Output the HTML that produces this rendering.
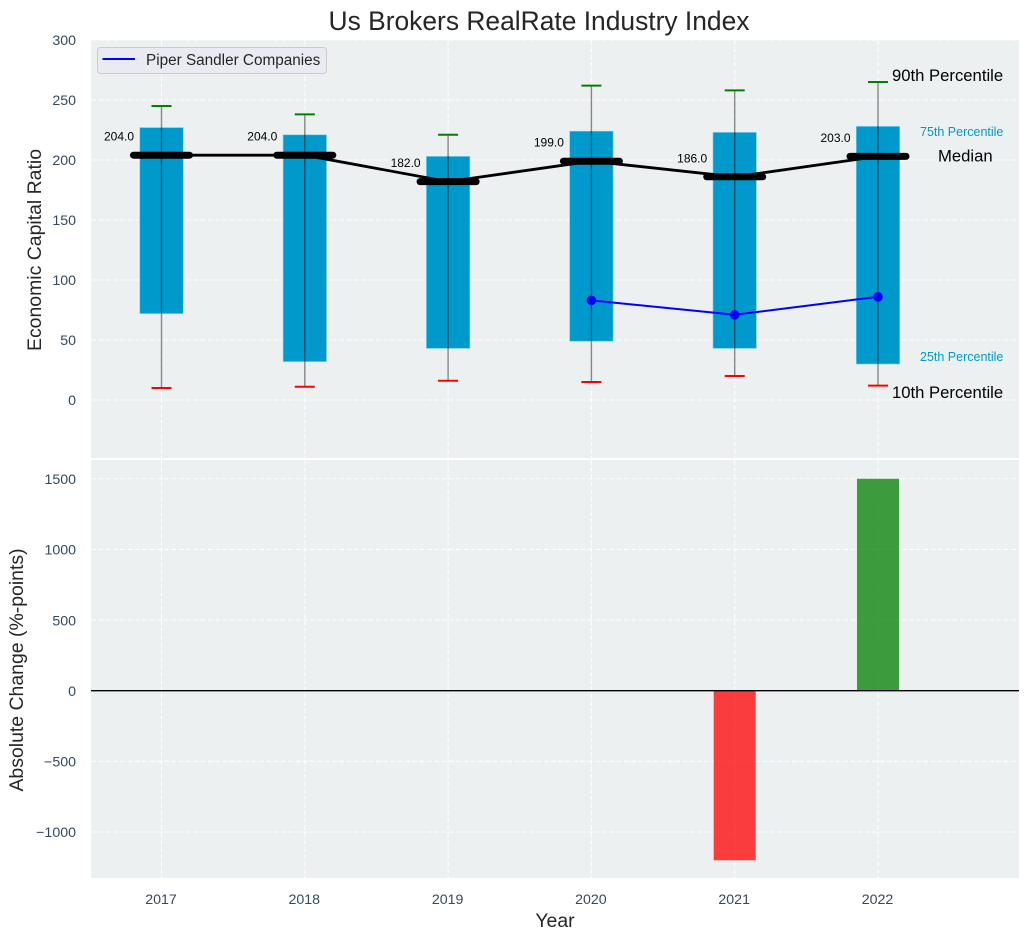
<!DOCTYPE html>
<html lang="en">
<head>
<meta charset="utf-8">
<title>Us Brokers RealRate Industry Index</title>
<style>
html,body{margin:0;padding:0;background:#fff;width:1029px;height:940px;overflow:hidden}
svg{display:block;font-family:"Liberation Sans",Arial,sans-serif}
</style>
</head>
<body>
<svg id="chart" xmlns="http://www.w3.org/2000/svg" width="1029" height="940" viewBox="0 0 1029 940">
  <rect x="0" y="0" width="1029" height="940" fill="#ffffff"/>
  <rect x="91" y="40" width="928" height="418" fill="#ecf0f1"/>
  <rect x="91" y="460" width="928" height="418" fill="#ecf0f1"/>
  <g id="grid"></g>
  <g id="lower"></g>
  <g id="upper"></g>
  <g id="ticks"></g>
  <text x="539" y="30" text-anchor="middle" font-size="26.4" fill="#262626">Us Brokers RealRate Industry Index</text>
  <text transform="translate(41,250) rotate(-90)" text-anchor="middle" font-size="19.44" fill="#262626">Economic Capital Ratio</text>
  <text transform="translate(23,670) rotate(-90)" text-anchor="middle" font-size="19.44" fill="#262626">Absolute Change (%-points)</text>
  <text x="555" y="927" text-anchor="middle" font-size="19.44" fill="#262626">Year</text>
  <g>
    <rect x="97.5" y="47.5" width="229" height="26" rx="3" fill="#eaeaf2" fill-opacity="0.9" stroke="#cccccc"/>
    <line x1="102.5" y1="59" x2="135" y2="59" stroke="#0000ff" stroke-width="2"/>
    <text x="146" y="65" font-size="15.3" fill="#262626">Piper Sandler Companies</text>
  </g>
  <text x="892" y="81" font-size="16.67" fill="#000000">90th Percentile</text>
  <text x="920" y="136" font-size="12.5" fill="#0099cc">75th Percentile</text>
  <text x="938" y="161.500" font-size="16.67" fill="#000000">Median</text>
  <text x="920" y="361" font-size="12.5" fill="#0099cc">25th Percentile</text>
  <text x="892" y="398" font-size="16.67" fill="#000000">10th Percentile</text>
</svg>
<script>
const years = [2017, 2018, 2019, 2020, 2021, 2022];
const p90 = [245, 238, 221, 262, 258, 265];
const p75 = [227, 221, 203, 224, 223, 228];
const median = [204, 204, 182, 199, 186, 203];
const p25 = [72, 32, 43, 49, 43, 30];
const p10 = [10, 11, 16, 15, 20, 12];
const company = [null, null, null, 83, 71, 86];
const change = [0, 0, 0, 0, -1200, 1500];
const topTicks = [300, 250, 200, 150, 100, 50, 0];
const bottomTicks = [1500, 1000, 500, 0, -500, -1000];

const NS = 'http://www.w3.org/2000/svg';
const xScale = function (year) { return 161.5 + (year - 2017) * 143.3; };
const yTop = function (v) { return 400 - v * 1.2; };
const yBottom = function (v) { return 690.7 - v * 0.1413; };
const gridLayer = document.getElementById('grid');
const lowerLayer = document.getElementById('lower');
const upperLayer = document.getElementById('upper');
const tickLayer = document.getElementById('ticks');

function make(tag, parent, attrs) {
  const node = document.createElementNS(NS, tag);
  Object.keys(attrs).forEach(function (k) { node.setAttribute(k, attrs[k]); });
  parent.appendChild(node);
  return node;
}
const gridStyle = { stroke: '#ffffff', 'stroke-width': 1.1, 'stroke-dasharray': '5.1 2.2', 'stroke-opacity': 0.9 };
function gridAttrs(x1, y1, x2, y2) {
  return Object.assign({ x1: x1, y1: y1, x2: x2, y2: y2 }, gridStyle);
}

topTicks.forEach(function (t) {
  const y = yTop(t);
  const g = make('line', gridLayer, gridAttrs(91, y, 1019, y));
  
  
  const lab = make('text', tickLayer, { x: 76, y: y + 5.2, 'text-anchor': 'end', 'font-size': 14.2, fill: '#34495e' });
  
  
  lab.textContent = String(t);
});
bottomTicks.forEach(function (t) {
  const y = yBottom(t);
  const g = make('line', gridLayer, gridAttrs(91, y, 1019, y));
  
  
  const lab = make('text', tickLayer, { x: 76, y: y + 5.2, 'text-anchor': 'end', 'font-size': 14.2, fill: '#34495e' });
  
  
  lab.textContent = String(t).replace('-', '\u2212');
});
years.forEach(function (yr) {
  const x = xScale(yr);
  const gt = make('line', gridLayer, gridAttrs(x, 40, x, 458));
  
  
  const gb = make('line', gridLayer, gridAttrs(x, 460, x, 878));
  
  
  const lab = make('text', tickLayer, { x: x - 0.5, y: 904, 'text-anchor': 'middle', 'font-size': 14.2, fill: '#34495e' });
  
  
  lab.textContent = String(yr);
});

/* lower panel */
change.forEach(function (v, i) {
  const x = xScale(years[i]);
  const y0 = yBottom(0);
  const yv = yBottom(v);
  const bar = make('rect', lowerLayer, {
    x: x - 21, y: Math.min(y0, yv), width: 42, height: Math.abs(yv - y0),
    fill: v >= 0 ? '#008000' : '#ff0000', 'fill-opacity': 0.75
  });
  
  
});
const zero = make('line', lowerLayer, { x1: 91, x2: 1019, y1: yBottom(0), y2: yBottom(0), stroke: '#000000', 'stroke-width': 1.3 });



/* upper panel */
years.forEach(function (yr, i) {
  const x = xScale(yr);
  const box = make('rect', upperLayer, {
    x: x - 21.7, y: yTop(p75[i]), width: 43.4, height: yTop(p25[i]) - yTop(p75[i]),
    fill: '#0099cc', stroke: '#7fcce5', 'stroke-width': 0.6
  });
  
  
});
years.forEach(function (yr, i) {
  const x = xScale(yr);
  const whisk = make('line', upperLayer, {
    x1: x, x2: x, y1: yTop(p90[i]), y2: yTop(p10[i]),
    stroke: '#000000', 'stroke-opacity': 0.45, 'stroke-width': 1.4
  });
  
  
  const capHi = make('line', upperLayer, { x1: x - 10, x2: x + 10, y1: yTop(p90[i]), y2: yTop(p90[i]), stroke: '#008000', 'stroke-width': 2 });
  
  
  const capLo = make('line', upperLayer, { x1: x - 10, x2: x + 10, y1: yTop(p10[i]), y2: yTop(p10[i]), stroke: '#ff0000', 'stroke-width': 2 });
  
  
});
const medianPts = years.map(function (yr, i) { return xScale(yr) + ',' + yTop(median[i]); }).join(' ');
const medLine = make('polyline', upperLayer, { points: medianPts, fill: 'none', stroke: '#000000', 'stroke-width': 2.8 });


years.forEach(function (yr, i) {
  const x = xScale(yr);
  const y = yTop(median[i]);
  const seg = make('line', upperLayer, { x1: x - 28, x2: x + 28, y1: y, y2: y, stroke: '#000000', 'stroke-width': 7, 'stroke-linecap': 'round' });
  
  
  const lab = make('text', upperLayer, { x: x - 27.5, y: y - 14.5, 'text-anchor': 'end', 'font-size': 12, fill: '#000000' });
  
  
  lab.textContent = median[i].toFixed(1);
});
const companyPts = [];
years.forEach(function (yr, i) {
  if (company[i] !== null) { companyPts.push(xScale(yr) + ',' + yTop(company[i])); }
});
const compLine = make('polyline', upperLayer, { points: companyPts.join(' '), fill: 'none', stroke: '#0000ff', 'stroke-width': 2 });


years.forEach(function (yr, i) {
  if (company[i] === null) { return; }
  const dot = make('circle', upperLayer, { cx: xScale(yr), cy: yTop(company[i]), r: 4.8, fill: '#0000ff' });
  
  
});
</script>
</body>
</html>
